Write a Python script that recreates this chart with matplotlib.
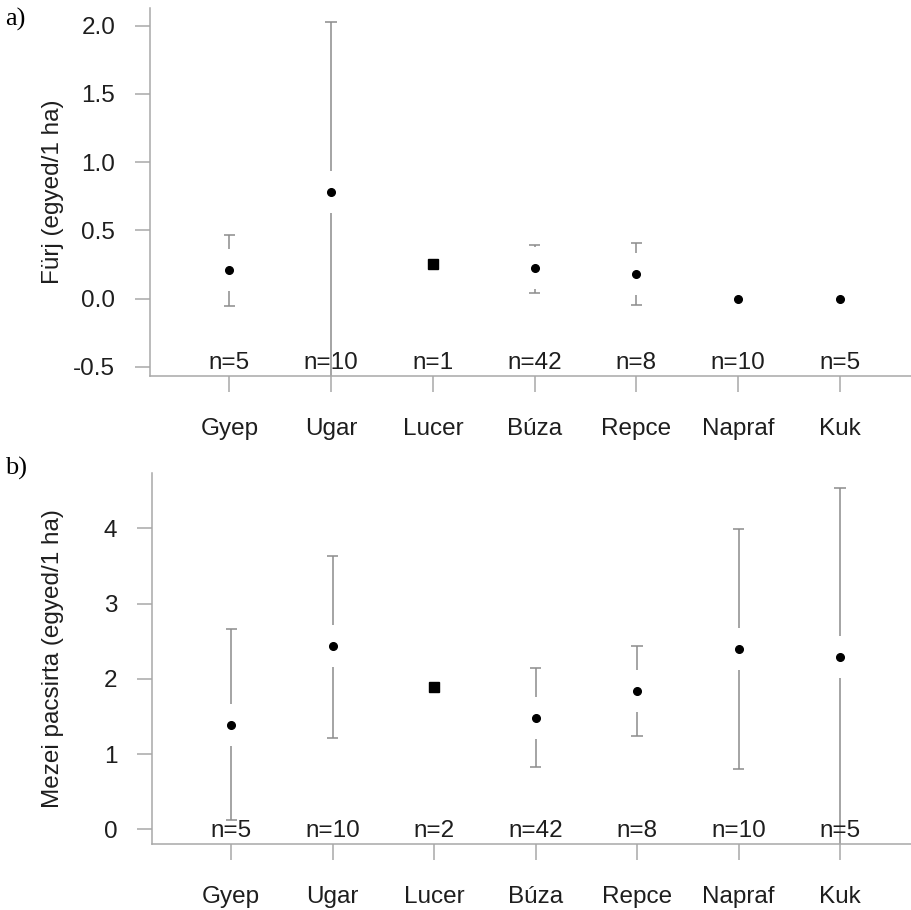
import matplotlib
matplotlib.use("Agg")
import matplotlib.pyplot as plt
import matplotlib.transforms as mtransforms

categories = ["Gyep", "Ugar", "Lucer", "Búza", "Repce", "Napraf", "Kuk"]

# a) Fürj
furj_mean = [0.21, 0.785, 0.255, 0.225, 0.18, 0.0, 0.0]
furj_upper = [0.465, 2.03, None, 0.395, 0.41, None, None]
furj_lower = [-0.05, -0.65, None, 0.04, -0.045, None, None]
furj_n = ["n=5", "n=10", "n=1", "n=42", "n=8", "n=10", "n=5"]

# b) Mezei pacsirta
pacs_mean = [1.38, 2.43, 1.895, 1.48, 1.84, 2.40, 2.295]
pacs_upper = [2.66, 3.635, None, 2.14, 2.43, 3.99, 4.54]
pacs_lower = [0.125, 1.22, None, 0.825, 1.24, 0.80, -0.3]
pacs_n = ["n=5", "n=10", "n=2", "n=42", "n=8", "n=10", "n=5"]

square_idx = 2  # Lucer drawn as a square

W, H = 911, 910
fig = plt.figure(figsize=(W / 100, H / 100), dpi=100)
plt.rcParams["font.family"] = "Liberation Sans"

axis_col = "#a8a8a8"
bar_col = "#8c8c8c"
text_col = "#1e1e1e"
fs = 17.5
gap_px = 21
cap_half = 0.055


def panel(rect_px, mean, upper, lower, nlab, ylim, yticks, yticklabels, ylabel, letter, letter_y):
    left, top, right, bottom = rect_px
    ax = fig.add_axes([left / W, 1 - bottom / H, (right - left) / W, (bottom - top) / H])
    x = list(range(1, len(categories) + 1))
    ax.set_xlim(0.22, 7.70)
    ax.set_ylim(*ylim)
    gap = gap_px * (ylim[1] - ylim[0]) / (bottom - top)

    for i, m in enumerate(mean):
        if upper[i] is not None:
            if upper[i] - m > gap:
                ax.vlines(x[i], m + gap, upper[i], color=bar_col, lw=1.1)
            ax.hlines(upper[i], x[i] - cap_half, x[i] + cap_half, color=bar_col, lw=1.1)
        if lower[i] is not None:
            if m - lower[i] > gap:
                ax.vlines(x[i], lower[i], m - gap, color=bar_col, lw=1.1)
            ax.hlines(lower[i], x[i] - cap_half, x[i] + cap_half, color=bar_col, lw=1.1)
        if i == square_idx:
            ax.plot(x[i], m, marker="s", ms=6.5, color="black", ls="none")
        else:
            ax.plot(x[i], m, marker="o", ms=5.5, color="black", ls="none")

    trans = mtransforms.blended_transform_factory(ax.transData, ax.transAxes)
    for i, t in enumerate(nlab):
        ax.annotate(t, xy=(x[i], 0), xycoords=trans, xytext=(0, 7),
                    textcoords="offset pixels", ha="center", va="baseline",
                    fontsize=fs, color=text_col)

    ax.set_xticks(x)
    ax.set_xticklabels(categories)
    ax.set_yticks(yticks)
    ax.set_yticklabels(yticklabels)
    for s in ["top", "right"]:
        ax.spines[s].set_visible(False)
    for s in ["left", "bottom"]:
        ax.spines[s].set_color(axis_col)
        ax.spines[s].set_linewidth(1.1)
    ax.tick_params(axis="y", length=11, width=1.1, color=axis_col, pad=14,
                   labelsize=fs, labelcolor=text_col)
    ax.tick_params(axis="x", length=11.5, width=1.1, color=axis_col, pad=19,
                   labelsize=fs, labelcolor=text_col)
    ax.set_ylabel(ylabel, fontsize=fs, color=text_col)
    ax.yaxis.set_label_coords(-(left - 64) / (right - left), 0.5)
    fig.text(5 / W, 1 - letter_y / H, letter, fontsize=19, family="Liberation Serif",
             va="center", ha="left", color="black")
    return ax


panel((150, 8, 911, 376), furj_mean, furj_upper, furj_lower, furj_n,
      (-0.566, 2.13), [-0.5, 0.0, 0.5, 1.0, 1.5, 2.0],
      ["-0.5", "0.0", "0.5", "1.0", "1.5", "2.0"],
      "Fürj (egyed/1 ha)", "a)", 19)

panel((152, 473, 911, 844), pacs_mean, pacs_upper, pacs_lower, pacs_n,
      (-0.195, 4.735), [0, 1, 2, 3, 4], ["0", "1", "2", "3", "4"],
      "Mezei pacsirta (egyed/1 ha)", "b)", 468)

fig.savefig("out.png", dpi=100, facecolor="white")
